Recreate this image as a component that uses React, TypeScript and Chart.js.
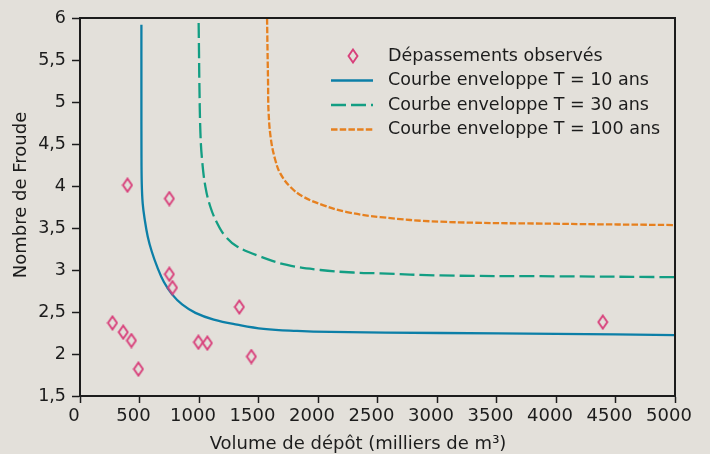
import React, { useEffect, useRef } from "react";
import { Chart, registerables } from "chart.js";

Chart.register(...registerables);

// ---- Data ----
const observedVolume = [399, 751, 751, 777, 273, 363, 432, 491, 995, 1070, 1339, 1440, 4393];
const observedFroude = [4.01, 3.85, 2.95, 2.79, 2.37, 2.26, 2.16, 1.82, 2.14, 2.13, 2.56, 1.97, 2.38];

const t10Volume = [516, 516, 516.5, 519, 527, 544, 569, 603, 648, 704, 774, 858, 970, 1124, 1320, 1543, 1823, 2103, 3027, 4000, 5000];
const t10Froude = [5.92, 5.1, 4.43, 4.03, 3.79, 3.6, 3.4, 3.22, 3.04, 2.86, 2.71, 2.59, 2.49, 2.41, 2.35, 2.3, 2.275, 2.263, 2.25, 2.24, 2.225];

const t30Volume = [997, 1000, 1003, 1012, 1026, 1054, 1096, 1152, 1222, 1320, 1516, 1740, 2019, 2296, 2523, 3027, 4000, 5000];
const t30Froude = [5.94, 5.6, 5.24, 4.63, 4.31, 3.99, 3.75, 3.56, 3.4, 3.28, 3.16, 3.06, 3.0, 2.97, 2.96, 2.935, 2.925, 2.915];

const t100Volume = [1572, 1576, 1580, 1585, 1605, 1641, 1683, 1767, 1879, 2047, 2243, 2523, 3027, 4034, 5000];
const t100Froude = [6.0, 5.6, 5.26, 4.87, 4.55, 4.31, 4.15, 3.99, 3.87, 3.77, 3.69, 3.63, 3.575, 3.55, 3.535];

const seriesLabels = [
  "Dépassements observés",
  "Courbe enveloppe T = 10 ans",
  "Courbe enveloppe T = 30 ans",
  "Courbe enveloppe T = 100 ans",
];

const xAxisTitle = "Volume de dépôt (milliers de m³)";
const yAxisTitle = "Nombre de Froude";

// ---- Styles ----
const BG = "#e3e0da";
const INK = "#1c1c1c";
const PINK = "#d8407b";
const BLUE = "#0c7fa7";
const GREEN = "#139e83";
const ORANGE = "#e6801f";
const FONT = '"DejaVu Sans", sans-serif';

function zip(xs: number[], ys: number[]) {
  return xs.map((x, i) => ({ x, y: ys[i] }));
}

function makeDiamond(): HTMLCanvasElement {
  const c = document.createElement("canvas");
  c.width = 12;
  c.height = 16;
  const ctx = c.getContext("2d")!;
  ctx.strokeStyle = PINK;
  ctx.lineWidth = 1.9;
  ctx.lineJoin = "miter";
  ctx.beginPath();
  ctx.moveTo(6, 1.5);
  ctx.lineTo(10.5, 8);
  ctx.lineTo(6, 14.5);
  ctx.lineTo(1.5, 8);
  ctx.closePath();
  ctx.stroke();
  return c;
}

export default function App() {
  const ref = useRef<HTMLCanvasElement | null>(null);

  useEffect(() => {
    document.body.style.margin = "0";
    document.body.style.background = BG;
    const canvas = ref.current!;
    const diamond = makeDiamond();

    const framePlugin = {
      id: "frameAndLegend",
      afterDraw(chart: any) {
        const { ctx, chartArea } = chart;
        ctx.save();
        // frame
        ctx.strokeStyle = INK;
        ctx.lineWidth = 2;
        ctx.strokeRect(chartArea.left, chartArea.top, chartArea.right - chartArea.left, chartArea.bottom - chartArea.top);

        // axis titles
        ctx.fillStyle = INK;
        ctx.font = `18px ${FONT}`;
        ctx.textAlign = "center";
        ctx.textBaseline = "middle";
        ctx.fillText(xAxisTitle, 358, 444.5);
        ctx.save();
        ctx.translate(21, 195);
        ctx.rotate(-Math.PI / 2);
        ctx.fillText(yAxisTitle, 0, 0);
        ctx.restore();

        // legend
        const x0 = 331, x1 = 373, tx = 388;
        chart.data.datasets.forEach((ds: any, i: number) => {
          const y = 56 + i * 24.5;
          if (ds.showLine) {
            ctx.save();
            ctx.strokeStyle = ds.borderColor;
            ctx.lineWidth = ds.borderWidth;
            ctx.setLineDash(ds.borderDash || []);
            ctx.beginPath();
            ctx.moveTo(x0, y);
            ctx.lineTo(x1, y);
            ctx.stroke();
            ctx.restore();
          } else {
            ctx.drawImage(diamond, 353 - diamond.width / 2, y - diamond.height / 2);
          }
          ctx.fillStyle = INK;
          ctx.font = `17.5px ${FONT}`;
          ctx.textAlign = "left";
          ctx.textBaseline = "middle";
          ctx.fillText(ds.label, tx, y);
        });
        ctx.restore();
      },
    };

    const lineCommon = {
      showLine: true,
      pointRadius: 0,
      tension: 0.4,
    };

    const chart = new Chart(canvas, {
      type: "scatter",
      data: {
        datasets: [
          {
            label: seriesLabels[0],
            data: zip(observedVolume, observedFroude),
            pointStyle: diamond,
            pointRadius: 6,
            showLine: false,
          },
          {
            ...lineCommon,
            label: seriesLabels[1],
            data: zip(t10Volume, t10Froude),
            borderColor: BLUE,
            borderWidth: 2.3,
          },
          {
            ...lineCommon,
            label: seriesLabels[2],
            data: zip(t30Volume, t30Froude),
            borderColor: GREEN,
            borderWidth: 2.3,
            borderDash: [15, 5],
          },
          {
            ...lineCommon,
            label: seriesLabels[3],
            data: zip(t100Volume, t100Froude),
            borderColor: ORANGE,
            borderWidth: 2.3,
            borderDash: [6.5, 2.2],
          },
        ] as any,
      },
      options: {
        animation: false,
        responsive: false,
        layout: { padding: { left: 0, top: 18, right: 35, bottom: 0 } },
        plugins: {
          legend: { display: false },
          tooltip: { enabled: false },
        },
        scales: {
          x: {
            type: "linear",
            min: 0,
            max: 5000,
            ticks: {
              stepSize: 500,
              color: INK,
              font: { family: FONT, size: 18 },
              padding: 3,
              labelOffset: -6,
              maxRotation: 0,
              autoSkip: false,
              callback: (v: any) => String(v),
            },
            grid: { drawOnChartArea: false, drawTicks: true, tickLength: 7, tickColor: INK, tickWidth: 1.5 },
            border: { display: true, color: INK, width: 2 },
            afterFit: (s: any) => { s.height = 58; },
          },
          y: {
            min: 1.5,
            max: 6,
            ticks: {
              stepSize: 0.5,
              color: INK,
              font: { family: FONT, size: 17.5 },
              padding: 6,
              callback: (v: any) => String(v).replace(".", ","),
            },
            grid: { drawOnChartArea: false, drawTicks: true, tickLength: 8, tickColor: INK, tickWidth: 1.5 },
            border: { display: true, color: INK, width: 2 },
            afterFit: (s: any) => { s.width = 80; },
          },
        },
      },
      plugins: [framePlugin],
    });

    return () => chart.destroy();
  }, []);

  return (
    <div style={{ width: 710, height: 454, background: BG }}>
      <canvas ref={ref} width={710} height={454} style={{ display: "block" }} />
    </div>
  );
}
